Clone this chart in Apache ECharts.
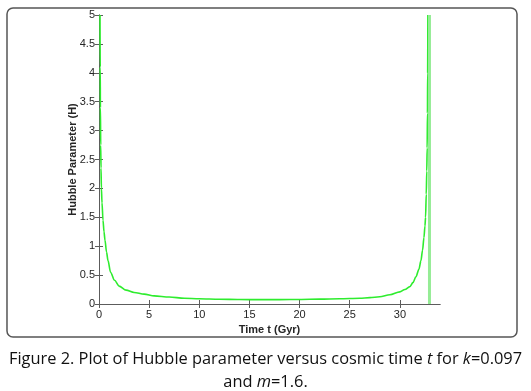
<!DOCTYPE html>
<html>
<head>
<meta charset="utf-8">
<script src="https://cdn.jsdelivr.net/npm/echarts@6/dist/echarts.min.js"></script>
<style>html,body{margin:0;padding:0;background:#fff;}#c{width:531px;height:391px;}</style>
</head>
<body>
<div id="c"></div>
<script>
// Hubble parameter curve H(t)
var timeValues = [0.1, 0.12, 0.14, 0.17, 0.2, 0.24, 0.3, 0.4, 0.5, 0.6, 0.75, 0.9, 1.15, 1.55, 2.0, 2.7, 3.5, 4.5, 5.5, 7, 8.5, 10, 12, 14, 16, 18, 20, 22, 24, 26, 27, 28, 29, 30, 30.5, 31, 31.3, 31.6, 31.9, 32.1, 32.26, 32.4, 32.5, 32.56, 32.63, 32.68, 32.72, 32.75, 32.77, 32.79];
var hubbleValues = [5.0, 4.1, 3.4, 2.75, 2.35, 2.0, 1.75, 1.45, 1.25, 1.1, 0.9, 0.75, 0.55, 0.41, 0.31, 0.24, 0.2, 0.17, 0.14, 0.12, 0.1, 0.09, 0.082, 0.077, 0.075, 0.076, 0.079, 0.084, 0.091, 0.1, 0.11, 0.125, 0.16, 0.21, 0.25, 0.3, 0.37, 0.47, 0.6, 0.75, 0.93, 1.15, 1.35, 1.5, 1.9, 2.3, 2.7, 3.3, 4.0, 5.0];
// second branch: vertical segment beyond the singularity
var branchTime = [32.95, 32.95];
var branchValues = [0, 5];
var xTicks = [0, 5, 10, 15, 20, 25, 30];
var yTicks = [0, 0.5, 1, 1.5, 2, 2.5, 3, 3.5, 4, 4.5, 5];

var curve = timeValues.map(function (t, i) { return [t, hubbleValues[i]]; });
var branch = branchTime.map(function (t, i) { return [t, branchValues[i]]; });

var chart = echarts.init(document.getElementById('c'), null, {renderer: 'canvas'});
var font = 'Liberation Sans, Arial, sans-serif';
var capFont = 'Open Sans, Noto Sans, sans-serif';
var axisCol = '#5c5c5c';
chart.setOption({
  animation: false,
  backgroundColor: '#ffffff',
  grid: {left: 99, right: 91, top: 15, bottom: 87},
  xAxis: [{
    type: 'value', min: 0, max: 34, interval: 5,
    name: 'Time t (Gyr)', nameLocation: 'middle', nameGap: 17,
    nameTextStyle: {fontFamily: font, fontSize: 11, fontWeight: 'bold', color: '#262626'},
    axisLine: {lineStyle: {color: axisCol, width: 1}},
    axisTick: {inside: true, length: 4, lineStyle: {color: axisCol}, customValues: xTicks},
    axisLabel: {fontFamily: font, fontSize: 11, color: '#262626', margin: 5, customValues: xTicks},
    splitLine: {show: false}
  }, {
    type: 'value', position: 'top', min: 0, max: 34, interval: 5,
    axisLine: {show: true, lineStyle: {color: axisCol, width: 1}},
    axisTick: {inside: true, length: 4, lineStyle: {color: axisCol}, customValues: xTicks},
    axisLabel: {show: false},
    splitLine: {show: false}
  }],
  yAxis: [{
    type: 'value', min: 0, max: 5, interval: 0.5,
    name: 'Hubble Parameter (H)', nameLocation: 'middle', nameGap: 21, nameMoveOverlap: false,
    nameTextStyle: {fontFamily: font, fontSize: 11, fontWeight: 'bold', color: '#262626'},
    axisLine: {show: true, lineStyle: {color: axisCol, width: 1}},
    axisTick: {show: true, inside: true, length: 4, lineStyle: {color: axisCol}},
    axisLabel: {fontFamily: font, fontSize: 11, color: '#262626', margin: 4},
    splitLine: {show: false}
  }, {
    type: 'value', position: 'right', min: 0, max: 5, interval: 0.5,
    axisLine: {show: true, lineStyle: {color: axisCol, width: 1}},
    axisTick: {show: true, inside: true, length: 4, lineStyle: {color: axisCol}},
    axisLabel: {show: false},
    splitLine: {show: false}
  }],
  title: {
    left: 'center', top: 343,
    text: '{n|Figure 2. Plot of Hubble parameter versus cosmic time }{i|t}{n| for }{i|k}{n|=0.097}\n{n|and }{i|m}{n|=1.6.}',
    textStyle: {
      fontWeight: 'normal', align: 'center',
      rich: {
        n: {fontFamily: capFont, fontSize: 16.4, fontWeight: 'normal', color: '#111', lineHeight: 23, align: 'center'},
        i: {fontFamily: capFont, fontSize: 16.4, fontWeight: 'normal', color: '#111', fontStyle: 'italic', lineHeight: 23, align: 'center'}
      }
    }
  },
  graphic: [{
    type: 'rect', silent: true, z: -1,
    shape: {x: 7, y: 8, width: 510, height: 329, r: 6},
    style: {fill: 'none', stroke: '#555', lineWidth: 1.5}
  }],
  series: [{
    type: 'line', data: curve, showSymbol: false, smooth: 0.3, smoothMonotone: 'x',
    clip: true,
    lineStyle: {color: '#2eec2e', width: 1.6}
  }, {
    type: 'line', data: branch, showSymbol: false,
    lineStyle: {color: '#95ec95', width: 3}
  }]
});
</script>
</body>
</html>
